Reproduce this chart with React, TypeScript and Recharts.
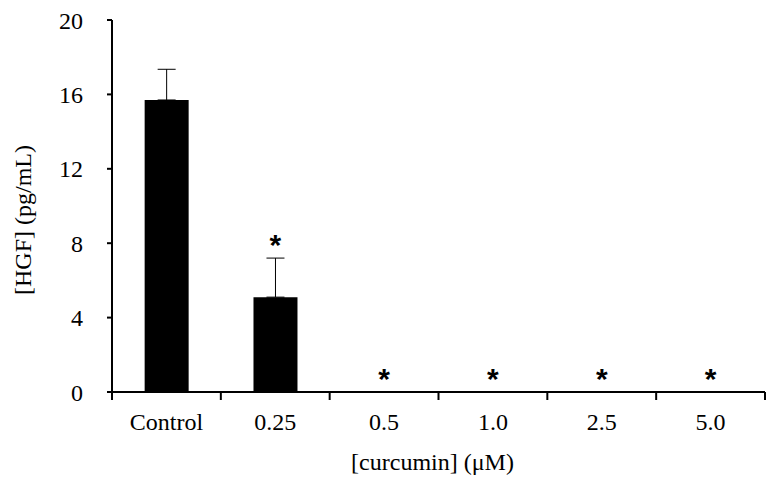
import React from "react";
import {
  ComposedChart,
  Bar,
  ErrorBar,
  Scatter,
  XAxis,
  YAxis,
} from "recharts";

const doses = ["Control", "0.25", "0.5", "1.0", "2.5", "5.0"];
const hgfMean = [15.7, 5.1, 0, 0, 0, 0];
const hgfSd = [1.65, 2.1, 0, 0, 0, 0];
const significant = [false, true, true, true, true, true];
const yTicks = [0, 4, 8, 12, 16, 20];

const FONT = '"Liberation Serif", "Times New Roman", serif';

const data = doses.map((d, i) => ({
  dose: d,
  hgf: hgfMean[i],
  err: [0, hgfSd[i]],
  star: significant[i] ? hgfMean[i] + hgfSd[i] : null,
}));

// category labels centred in the band, tick marks on the band edges
function DoseTick(props: any) {
  const { x, y, payload, index, width, visibleTicksCount } = props;
  const half = width / visibleTicksCount / 2;
  const axisY = y - 21;
  return (
    <g>
      <line x1={x - half} x2={x - half} y1={axisY} y2={axisY + 8} stroke="#000" strokeWidth={2} />
      {index === visibleTicksCount - 1 && (
        <line x1={x + half} x2={x + half} y1={axisY} y2={axisY + 8} stroke="#000" strokeWidth={2} />
      )}
      <text x={x} y={y} dy="0.71em" textAnchor="middle" fontSize={24} fontFamily={FONT} fill="#000">
        {payload.value}
      </text>
    </g>
  );
}

function Star(props: any) {
  const { cx, cy, payload } = props;
  if (payload?.star == null || !Number.isFinite(cy)) return null;
  return (
    <text
      x={cx}
      y={cy - 20}
      dy={17}
      textAnchor="middle"
      fontSize={30}
      fontWeight="bold"
      fontFamily='"Liberation Sans", Arial, sans-serif'
      fill="#000"
    >
      *
    </text>
  );
}

export default function App() {
  return (
    <div style={{ position: "absolute", left: 0, top: 0, background: "#fff" }}>
      <ComposedChart
        width={774}
        height={484}
        data={data}
        margin={{ top: 20, right: 9, bottom: 0, left: 0 }}
        barCategoryGap="30%"
      >
        <XAxis
          dataKey="dose"
          height={92}
          axisLine={{ stroke: "#000", strokeWidth: 2 }}
          tickLine={false}
          tickSize={0}
          tickMargin={21}
          interval={0}
          tick={<DoseTick />}
          label={{
            content: ({ viewBox }: any) => (
              <text
                x={viewBox.x + viewBox.width / 2 - 6}
                y={viewBox.y + 70}
                dy="0.35em"
                textAnchor="middle"
                fontSize={24}
                fontFamily={FONT}
                fill="#000"
              >
                [curcumin] (μM)
              </text>
            ),
          }}
        />
        <YAxis
          width={112}
          domain={[0, 20]}
          ticks={yTicks}
          interval={0}
          axisLine={{ stroke: "#000", strokeWidth: 2 }}
          tickLine={{ stroke: "#000", strokeWidth: 2 }}
          tickSize={5}
          tickMargin={24}
          tick={{ fontSize: 24, fontFamily: FONT, fill: "#000" }}
          label={{
            content: ({ viewBox }: any) => {
              const cx = viewBox.x + 23;
              const cy = viewBox.y + viewBox.height / 2 + 14;
              return (
                <text
                  x={cx}
                  y={cy}
                  dy="0.35em"
                  textAnchor="middle"
                  transform={`rotate(-90 ${cx} ${cy})`}
                  fontSize={24}
                  fontFamily={FONT}
                  fill="#000"
                >
                  [HGF] (pg/mL)
                </text>
              );
            },
          }}
        />
        <Bar dataKey="hgf" fill="#000" isAnimationActive={false}>
          <ErrorBar dataKey="err" width={9} stroke="#000" strokeWidth={1} direction="y" />
        </Bar>
        <Scatter dataKey="star" shape={<Star />} isAnimationActive={false} />
      </ComposedChart>
    </div>
  );
}
